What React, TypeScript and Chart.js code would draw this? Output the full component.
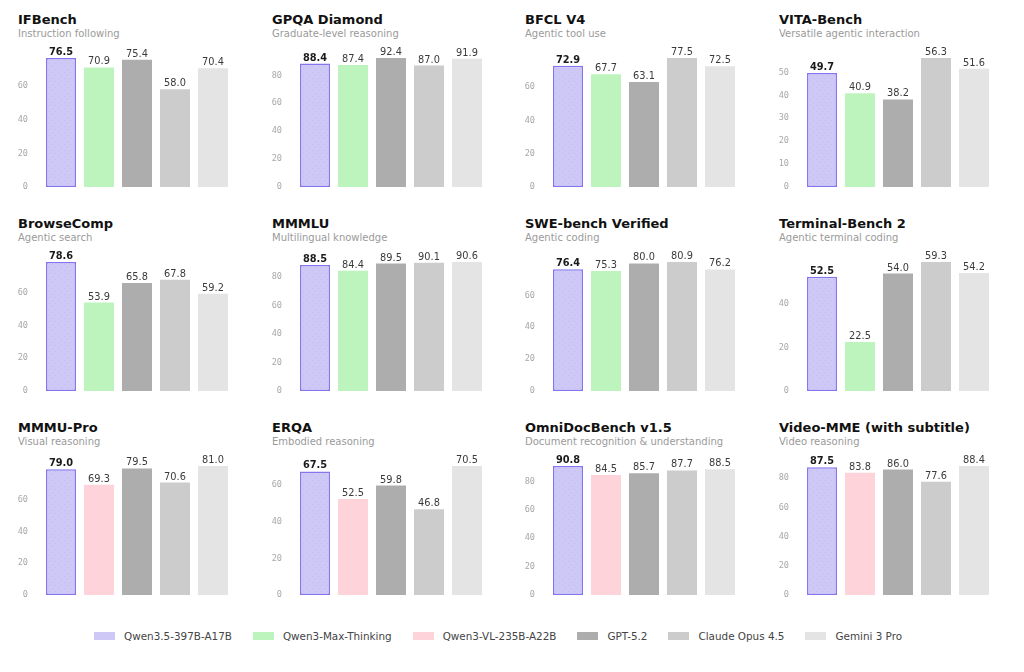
import React, { useEffect, useRef } from "react";
import { Chart, registerables } from "chart.js";

Chart.register(...registerables);

// ---- data ----
const MODELS = [
  "Qwen3.5-397B-A17B",
  "Qwen3-Max-Thinking",
  "Qwen3-VL-235B-A22B",
  "GPT-5.2",
  "Claude Opus 4.5",
  "Gemini 3 Pro",
];
const MODEL_COLORS = ["#cdc8f6", "#bdf4bd", "#ffd3da", "#adadad", "#cccccc", "#e4e4e4"];
const QWEN_BORDER = "#8576ef";

const TEXT_MODELS = [0, 1, 3, 4, 5];
const VISION_MODELS = [0, 2, 3, 4, 5];

const TITLES = [
  "IFBench",
  "GPQA Diamond",
  "BFCL V4",
  "VITA-Bench",
  "BrowseComp",
  "MMMLU",
  "SWE-bench Verified",
  "Terminal-Bench 2",
  "MMMU-Pro",
  "ERQA",
  "OmniDocBench v1.5",
  "Video-MME (with subtitle)",
];
const SUBTITLES = [
  "Instruction following",
  "Graduate-level reasoning",
  "Agentic tool use",
  "Versatile agentic interaction",
  "Agentic search",
  "Multilingual knowledge",
  "Agentic coding",
  "Agentic terminal coding",
  "Visual reasoning",
  "Embodied reasoning",
  "Document recognition & understanding",
  "Video reasoning",
];

const IFBENCH = [76.5, 70.9, 75.4, 58.0, 70.4];
const GPQA = [88.4, 87.4, 92.4, 87.0, 91.9];
const BFCL = [72.9, 67.7, 63.1, 77.5, 72.5];
const VITA = [49.7, 40.9, 38.2, 56.3, 51.6];
const BROWSECOMP = [78.6, 53.9, 65.8, 67.8, 59.2];
const MMMLU = [88.5, 84.4, 89.5, 90.1, 90.6];
const SWE = [76.4, 75.3, 80.0, 80.9, 76.2];
const TERMINAL = [52.5, 22.5, 54.0, 59.3, 54.2];
const MMMU_PRO = [79.0, 69.3, 79.5, 70.6, 81.0];
const ERQA = [67.5, 52.5, 59.8, 46.8, 70.5];
const OMNIDOC = [90.8, 84.5, 85.7, 87.7, 88.5];
const VIDEO_MME = [87.5, 83.8, 86.0, 77.6, 88.4];

const PANEL_SCORES = [
  IFBENCH, GPQA, BFCL, VITA,
  BROWSECOMP, MMMLU, SWE, TERMINAL,
  MMMU_PRO, ERQA, OMNIDOC, VIDEO_MME,
];
const PANEL_MODELS = [
  TEXT_MODELS, TEXT_MODELS, TEXT_MODELS, TEXT_MODELS,
  TEXT_MODELS, TEXT_MODELS, TEXT_MODELS, TEXT_MODELS,
  VISION_MODELS, VISION_MODELS, VISION_MODELS, VISION_MODELS,
];
const STEP_SIZES = [20, 20, 20, 10, 20, 20, 20, 20, 20, 20, 20, 20];

// ---- layout ----
const COL_X = [18, 272, 525, 779];
const ROW_Y = [8, 212, 416];
const CANVAS_W = 222;
const CANVAS_H = 185;

function makeQwenPattern(): CanvasPattern | string {
  const c = document.createElement("canvas");
  c.width = 6;
  c.height = 6;
  const ctx = c.getContext("2d");
  if (!ctx) return MODEL_COLORS[0];
  ctx.fillStyle = MODEL_COLORS[0];
  ctx.fillRect(0, 0, 6, 6);
  ctx.fillStyle = "#c3bcf3";
  ctx.fillRect(1, 1, 1, 1);
  ctx.fillRect(4, 4, 1, 1);
  const p = ctx.createPattern(c, "repeat");
  return p || MODEL_COLORS[0];
}

const valueLabels = {
  id: "valueLabels",
  afterDatasetsDraw(chart: any) {
    const ctx = chart.ctx;
    const meta = chart.getDatasetMeta(0);
    const values = chart.data.datasets[0].data as number[];
    ctx.save();
    ctx.textAlign = "center";
    ctx.textBaseline = "alphabetic";
    meta.data.forEach((el: any, idx: number) => {
      const first = idx === 0;
      ctx.font = `${first ? "bold " : ""}9.8px "DejaVu Sans"`;
      ctx.fillStyle = first ? "#1a1a1a" : "#3a3a3a";
      ctx.fillText(values[idx].toFixed(1), el.x, el.y - 3);
    });
    ctx.restore();
  },
};

function Panel({ i }: { i: number }) {
  const ref = useRef<HTMLCanvasElement>(null);
  useEffect(() => {
    if (!ref.current) return;
    const models = PANEL_MODELS[i];
    const scores = PANEL_SCORES[i];
    const step = STEP_SIZES[i];
    const maxV = Math.max(...scores);
    const pattern = makeQwenPattern();
    const chart = new Chart(ref.current, {
      type: "bar",
      data: {
        labels: models.map((m) => MODELS[m]),
        datasets: [
          {
            data: scores,
            backgroundColor: models.map((m) => (m === 0 ? pattern : MODEL_COLORS[m])) as any,
            borderColor: models.map((m) => (m === 0 ? QWEN_BORDER : "rgba(0,0,0,0)")),
            borderWidth: models.map((m) => (m === 0 ? 1.5 : 0)),
            borderSkipped: false,
            barPercentage: 0.79,
            categoryPercentage: 1,
          },
        ],
      },
      options: {
        responsive: false,
        animation: false,
        events: [],
        layout: { autoPadding: false, padding: { top: 50, bottom: 6, left: 0, right: 8 } },
        plugins: {
          legend: { display: false },
          tooltip: { enabled: false },
          title: { display: false },
        },
        scales: {
          x: { display: false },
          y: {
            min: 0,
            max: maxV,
            border: { display: false },
            grid: { display: false, drawOnChartArea: false, drawTicks: true, tickLength: 14 },
            ticks: {
              stepSize: step,
              padding: 0,
              color: "#a8a8a8",
              font: { family: "DejaVu Sans Mono", size: 8.6 },
            },
            afterBuildTicks: (s: any) => {
              s.ticks = s.ticks.filter((t: any) => Math.abs(t.value % step) < 1e-9);
            },
            afterFit: (s: any) => {
              s.width = 24;
            },
          },
        },
      },
      plugins: [valueLabels],
    });
    return () => chart.destroy();
  }, [i]);

  const col = i % 4;
  const row = Math.floor(i / 4);
  const left = COL_X[col];
  const top = ROW_Y[row];
  return (
    <>
      <div
        style={{
          position: "absolute",
          left,
          top: top + 4,
          font: 'bold 13px "DejaVu Sans"',
          lineHeight: "15px",
          color: "#111",
          whiteSpace: "nowrap",
        }}
      >
        {TITLES[i]}
      </div>
      <div
        style={{
          position: "absolute",
          left,
          top: top + 20,
          font: '10px "DejaVu Sans"',
          lineHeight: "12px",
          color: "#9a9a9a",
          whiteSpace: "nowrap",
        }}
      >
        {SUBTITLES[i]}
      </div>
      <canvas
        ref={ref}
        width={CANVAS_W}
        height={CANVAS_H}
        style={{ position: "absolute", left, top, width: CANVAS_W, height: CANVAS_H }}
      />
    </>
  );
}

function Legend() {
  return (
    <div
      style={{
        position: "absolute",
        left: 94,
        top: 628,
        height: 16,
        display: "flex",
        alignItems: "center",
        whiteSpace: "nowrap",
      }}
    >
      {MODELS.map((m, k) => (
        <div
          key={m}
          style={{ display: "flex", alignItems: "center", marginRight: k < MODELS.length - 1 ? 21 : 0 }}
        >
          <span
            style={{
              display: "inline-block",
              width: 21,
              height: 8,
              background: MODEL_COLORS[k],
              marginRight: 9,
            }}
          />
          <span style={{ font: '10.4px "DejaVu Sans"', color: "#444" }}>{m}</span>
        </div>
      ))}
    </div>
  );
}

export default function App() {
  return (
    <div style={{ position: "absolute", left: 0, top: 0, width: 1024, height: 672, background: "#fff" }}>
      {TITLES.map((_, i) => (
        <Panel key={i} i={i} />
      ))}
      <Legend />
    </div>
  );
}
